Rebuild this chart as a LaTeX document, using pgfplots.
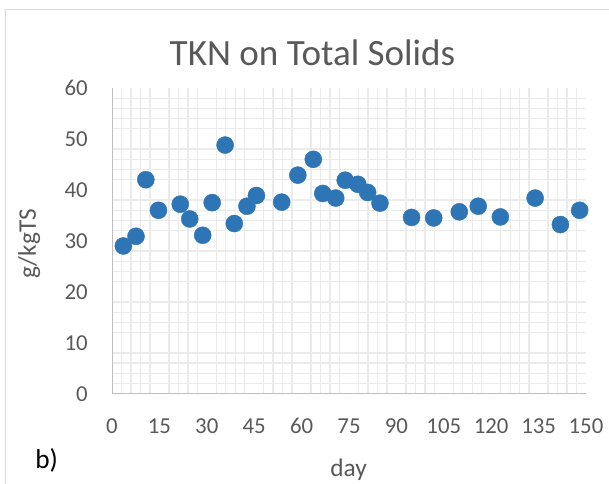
\documentclass[border=0pt]{standalone}
\usepackage{pgfplots}
\pgfplotsset{compat=1.18}
\usepackage{fontspec}
\setmainfont{Carlito}
\definecolor{ptblue}{HTML}{2E75B6}
\definecolor{lbl}{HTML}{595959}
\definecolor{axl}{HTML}{BFBFBF}
\definecolor{grd}{HTML}{EBEBEB}
\definecolor{frm}{HTML}{D9D9D9}
\begin{document}
\begin{tikzpicture}[x=0.75pt,y=0.75pt]
\useasboundingbox (0,0) rectangle (609,484);
\draw[frm, line width=0.75pt] (5,-10) -- (5,474) -- (620,474);
\begin{axis}[
  at={(84pt,67.7pt)}, anchor=south west,
  scale only axis, width=355.5pt, height=229.3pt,
  xmin=0, xmax=150, ymin=0, ymax=60,
  xtick={0,15,...,150}, ytick={0,10,...,60},
  minor x tick num=4, minor y tick num=4,
  major tick length=0pt, minor tick length=0pt,
  xmajorgrids=false, ymajorgrids=false,
  xminorgrids=true, yminorgrids=true,
  minor grid style={grd, line width=1pt},
  axis lines=left,
  axis line style={axl, line width=0.75pt, -},
  /pgf/number format/assume math mode=true,
  xticklabel style={font=\fontsize{17.1}{20}\selectfont, text=lbl, anchor=north, inner sep=0pt, yshift=-18.4pt},
  yticklabel style={font=\fontsize{17.1}{20}\selectfont, text=lbl, anchor=east, inner sep=0pt, xshift=-18pt},
  clip=false,
]
\addplot[only marks, mark=*, mark size=6.4pt, mark options={fill=ptblue, draw=ptblue, line width=0.3pt}] table {
x y
3.6 29.0
7.6 30.9
10.7 42.0
14.7 36.0
21.6 37.2
24.6 34.3
28.7 31.1
31.7 37.5
35.8 48.8
38.7 33.4
42.7 36.8
45.7 38.9
53.7 37.6
58.8 42.9
63.7 46.0
66.7 39.3
70.8 38.4
73.8 41.9
77.8 41.1
80.9 39.5
84.8 37.4
94.8 34.6
101.8 34.5
109.9 35.7
115.9 36.8
122.9 34.7
133.9 38.4
141.9 33.2
148.0 36.0
};
\end{axis}
\node[anchor=base, text=lbl, font=\fontsize{27.8}{32}\selectfont, inner sep=0pt] at (312.5,418.3) {TKN on Total Solids};
\node[anchor=base, text=lbl, font=\fontsize{19}{22}\selectfont, inner sep=0pt] at (348.5,7) {day};
\node[rotate=90, anchor=center, text=lbl, font=\fontsize{19}{22}\selectfont, inner sep=0pt] at (29.2,240) {g/kgTS};
\node[anchor=base west, text=black, font=\fontsize{20.5}{24}\selectfont, inner sep=0pt] at (35,15.7) {b)};
\end{tikzpicture}
\end{document}
